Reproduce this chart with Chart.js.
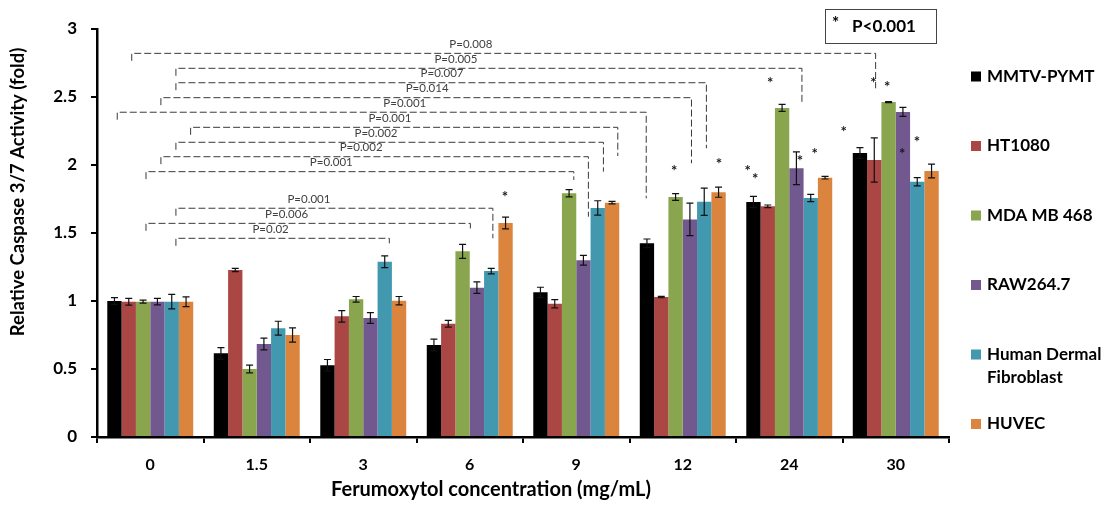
<!DOCTYPE html>
<html>
<head>
  <title>Relative Caspase 3/7 Activity</title>
  <script src="https://cdn.jsdelivr.net/npm/chart.js"></script>
  <style>
    body { margin: 0; background: #ffffff; }
  </style>
</head>
<body>
  <div style="width: 1116px; height: 507px; position: relative;">
    <canvas id="caspaseChart"></canvas>
  </div>

  <script>
    // Ferumoxytol doses (mg/mL) and cell lines
    const doses = ['0', '1.5', '3', '6', '9', '12', '24', '30'];
    const cellLines = ['MMTV-PYMT', 'HT1080', 'MDA MB 468', 'RAW264.7', ['Human Dermal', 'Fibroblast'], 'HUVEC'];
    const colors = ['#000000', '#AA4643', '#89A54E', '#71588F', '#4198AF', '#DB843D'];

    // mean fold change, one array per cell line
    const mmtv   = [1.00, 0.615, 0.527, 0.676, 1.064, 1.424, 1.728, 2.088];
    const ht1080 = [0.995, 1.228, 0.887, 0.833, 0.980, 1.029, 1.696, 2.037];
    const mda    = [0.995, 0.500, 1.012, 1.365, 1.792, 1.765, 2.420, 2.463];
    const raw    = [0.995, 0.684, 0.875, 1.098, 1.300, 1.600, 1.976, 2.390];
    const hdf    = [0.995, 0.800, 1.289, 1.220, 1.684, 1.730, 1.757, 1.877];
    const huvec  = [0.995, 0.750, 1.002, 1.574, 1.723, 1.800, 1.907, 1.956];

    // error bars (+/-)
    const mmtvErr   = [0.025, 0.042, 0.043, 0.043, 0.037, 0.032, 0.042, 0.040];
    const ht1080Err = [0.025, 0.012, 0.042, 0.025, 0.030, 0.005, 0.010, 0.163];
    const mdaErr    = [0.011, 0.029, 0.021, 0.051, 0.027, 0.025, 0.026, 0.004];
    const rawErr    = [0.024, 0.043, 0.039, 0.042, 0.036, 0.120, 0.120, 0.033];
    const hdfErr    = [0.053, 0.051, 0.043, 0.020, 0.053, 0.100, 0.027, 0.030];
    const huvecErr  = [0.036, 0.053, 0.031, 0.043, 0.009, 0.037, 0.010, 0.050];

    const means = [mmtv, ht1080, mda, raw, hdf, huvec];
    const errs = [mmtvErr, ht1080Err, mdaErr, rawErr, hdfErr, huvecErr];

    // significance brackets, x in category units (0 = first dose)
    const bracketLeft  = [-0.174, 0.241, 0.241, 0.100, -0.310, 0.379, 0.241, 0.100, -0.040, 0.241, -0.040, 0.241];
    const bracketRight = [6.811, 6.119, 5.222, 5.082, 4.657, 4.390, 4.255, 4.114, 3.977, 3.217, 3.006, 2.245];
    const bracketTop   = [2.821, 2.711, 2.605, 2.495, 2.388, 2.277, 2.167, 2.061, 1.951, 1.682, 1.571, 1.461];
    const bracketEnd   = [2.564, 2.454, 2.123, 2.013, 1.755, 2.066, 1.951, 1.620, 1.890, 1.461, 1.522, 1.424];
    const bracketText  = ['P=0.008', 'P=0.005', 'P=0.007', 'P=0.014', 'P=0.001', 'P=0.001',
                          'P=0.002', 'P=0.002', 'P=0.001', 'P=0.001', 'P=0.006', 'P=0.02'];
    const bracketTextX = [3.01, 2.87, 2.74, 2.60, 2.39, 2.25, 2.12, 1.98, 1.70, 1.49, 1.28, 1.13];

    // asterisks (P<0.001)
    const starX = [3.33, 4.92, 5.34, 5.61, 5.68, 5.82, 6.10, 6.24, 6.51, 6.79, 6.92, 7.06, 7.20];
    const starY = [1.782, 1.976, 2.03, 1.976, 1.92, 2.627, 2.051, 2.105, 2.267, 2.627, 2.593, 2.105, 2.193];

    const FONT = 'Lato, "Open Sans", sans-serif';

    const datasets = means.map((vals, i) => ({
      label: Array.isArray(cellLines[i]) ? cellLines[i].join(' ') : cellLines[i],
      data: vals,
      backgroundColor: colors[i],
      borderWidth: 0,
      categoryPercentage: 0.807,
      barPercentage: 1.0
    }));

    // error bars, brackets, asterisks, legend, titles and note box
    const extras = {
      id: 'extras',
      afterDatasetsDraw(chart) {
        const ctx = chart.ctx;
        const y = chart.scales.y;
        const x2 = chart.scales.x2;

        ctx.save();
        ctx.strokeStyle = '#111';
        ctx.lineWidth = 1.2;
        means.forEach((vals, d) => {
          const meta = chart.getDatasetMeta(d);
          meta.data.forEach((bar, i) => {
            const top = y.getPixelForValue(vals[i] + errs[d][i]);
            const bot = y.getPixelForValue(vals[i] - errs[d][i]);
            ctx.beginPath();
            ctx.moveTo(bar.x, top); ctx.lineTo(bar.x, bot);
            ctx.moveTo(bar.x - 3.5, top); ctx.lineTo(bar.x + 3.5, top);
            ctx.moveTo(bar.x - 3.5, bot); ctx.lineTo(bar.x + 3.5, bot);
            ctx.stroke();
          });
        });

        // dashed brackets
        ctx.strokeStyle = '#3a3a3a';
        ctx.lineWidth = 1;
        ctx.setLineDash([7, 3]);
        bracketLeft.forEach((l, i) => {
          const xl = x2.getPixelForValue(l);
          const xr = x2.getPixelForValue(bracketRight[i]);
          const yt = y.getPixelForValue(bracketTop[i]);
          ctx.beginPath();
          ctx.moveTo(xl, y.getPixelForValue(bracketTop[i] - 0.055));
          ctx.lineTo(xl, yt);
          ctx.lineTo(xr, yt);
          ctx.lineTo(xr, y.getPixelForValue(bracketEnd[i]));
          ctx.stroke();
        });
        ctx.setLineDash([]);

        ctx.fillStyle = '#404040';
        ctx.font = '11.5px ' + FONT;
        ctx.textAlign = 'center';
        ctx.textBaseline = 'middle';
        bracketText.forEach((t, i) => {
          ctx.fillText(t, x2.getPixelForValue(bracketTextX[i]), y.getPixelForValue(bracketTop[i]) - 9);
        });

        // asterisks
        ctx.fillStyle = '#1a1a1a';
        ctx.font = 'bold 15px ' + FONT;
        starX.forEach((sx, i) => {
          ctx.fillText('*', x2.getPixelForValue(sx), y.getPixelForValue(starY[i]) + 3);
        });
        ctx.restore();
      },
      afterDraw(chart) {
        const ctx = chart.ctx;
        ctx.save();
        ctx.fillStyle = '#000';
        ctx.font = 'bold 17px ' + FONT;
        ctx.textBaseline = 'middle';
        ctx.textAlign = 'left';

        // legend
        let ly = 76.5;
        cellLines.forEach((name, i) => {
          ctx.fillStyle = colors[i];
          ctx.fillRect(971, ly - 5, 10, 10);
          ctx.fillStyle = '#000';
          const lines = Array.isArray(name) ? name : [name];
          lines.forEach((ln, k) => ctx.fillText(ln, 987, ly + k * 23));
          ly += 69.5;
        });

        // note box
        ctx.strokeStyle = '#444';
        ctx.lineWidth = 1;
        ctx.strokeRect(825.5, 9.5, 111, 34);
        ctx.fillText('*', 832, 24);
        ctx.fillText('P<0.001', 852, 27);

        // axis titles
        ctx.textAlign = 'center';
        ctx.font = 'bold 20px ' + FONT;
        ctx.fillText('Ferumoxytol concentration (mg/mL)', 491, 490);
        ctx.save();
        ctx.translate(18, 192);
        ctx.rotate(-Math.PI / 2);
        ctx.font = 'bold 18.5px ' + FONT;
        ctx.fillText('Relative Caspase 3/7 Activity (fold)', 0, 0);
        ctx.restore();
        ctx.restore();
      }
    };

    const ctx = document.getElementById('caspaseChart').getContext('2d');
    new Chart(ctx, {
      type: 'bar',
      data: { labels: doses, datasets: datasets },
      options: {
        responsive: true,
        maintainAspectRatio: false,
        animation: false,
        layout: { padding: { left: 0, right: 167, top: 29, bottom: 0 } },
        plugins: { legend: { display: false }, tooltip: { enabled: false } },
        scales: {
          x: {
            type: 'category',
            offset: true,
            grid: { offset: true, drawOnChartArea: false, tickLength: 6, color: '#000', lineWidth: 2 },
            border: { color: '#000', width: 2.5 },
            ticks: { color: '#000', font: { family: FONT, size: 16, weight: 'bold' }, padding: 12 },
            afterFit(scale) { scale.height = 70; }
          },
          // hidden linear twin of the dose axis, used to place brackets and asterisks
          x2: { type: 'linear', axis: 'x', position: 'bottom', min: -0.5, max: 7.5, offset: false, display: false },
          y: {
            min: 0,
            max: 3,
            ticks: {
              stepSize: 0.5,
              color: '#000',
              font: { family: FONT, size: 17, weight: 'bold' },
              padding: 14,
              callback: (v) => String(v)
            },
            grid: { drawOnChartArea: false, tickLength: 6, color: '#000', lineWidth: 2 },
            border: { color: '#000', width: 2.5 },
            afterFit(scale) { scale.width = 97; }
          }
        }
      },
      plugins: [extras]
    });
  </script>
</body>
</html>
